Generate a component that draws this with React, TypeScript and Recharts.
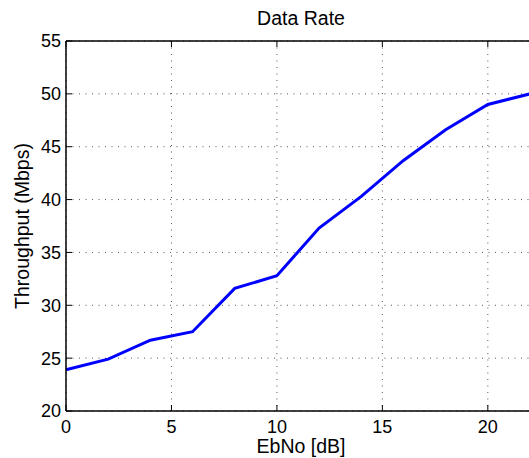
import React from "react";
import { LineChart, Line, XAxis, YAxis, CartesianGrid } from "recharts";

const ebno = [0, 2, 4, 6, 8, 10, 12, 14, 16, 18, 20, 22];
const throughput = [23.9, 24.9, 26.7, 27.5, 31.6, 32.8, 37.3, 40.3, 43.7, 46.6, 49.0, 50.0];
const xTicks = [0, 5, 10, 15, 20];
const yTicks = [20, 25, 30, 35, 40, 45, 50, 55];
const title = "Data Rate";
const xLabel = "EbNo [dB]";
const yLabel = "Throughput (Mbps)";

const data = ebno.map((x, i) => ({ x, y: throughput[i] }));

const FONT = "'Liberation Sans', Arial, Helvetica, sans-serif";
const TICK_FS = 18;
const LABEL_FS = 19.5;
const TICK_LEN = 6;
const X_MARGIN = 9;
const Y_MARGIN = 5;

const BottomTick = (props: any) => {
  const { x, y, payload } = props;
  const axisY = y - X_MARGIN;
  return (
    <g>
      <line x1={x} y1={axisY} x2={x} y2={axisY - TICK_LEN} stroke="#000" strokeWidth={1} />
      <text x={x} y={y} dy="0.71em" textAnchor="middle" fontSize={TICK_FS} fontFamily={FONT} fill="#000">
        {payload.value}
      </text>
    </g>
  );
};

const TopTick = (props: any) => {
  const { x, y } = props;
  return <line x1={x} y1={y} x2={x} y2={y + TICK_LEN} stroke="#000" strokeWidth={1} />;
};

const LeftTick = (props: any) => {
  const { x, y, payload } = props;
  const axisX = x + Y_MARGIN;
  return (
    <g>
      <line x1={axisX} y1={y} x2={axisX + TICK_LEN} y2={y} stroke="#000" strokeWidth={1} />
      <text x={x} y={y} dy="0.355em" textAnchor="end" fontSize={TICK_FS} fontFamily={FONT} fill="#000">
        {payload.value}
      </text>
    </g>
  );
};

const TitleLabel = (props: any) => {
  const vb = props.viewBox;
  return (
    <text x={vb.x + vb.width / 2 + 3} y={vb.y + vb.height - 16} textAnchor="middle" fontSize={LABEL_FS} fontFamily={FONT} fill="#000">
      {title}
    </text>
  );
};

const XLabel = (props: any) => {
  const vb = props.viewBox;
  return (
    <text x={vb.x + vb.width / 2 + 3} y={vb.y + 42} textAnchor="middle" fontSize={LABEL_FS} fontFamily={FONT} fill="#000">
      {xLabel}
    </text>
  );
};

const YLabel = (props: any) => {
  const vb = props.viewBox;
  const cx = vb.x + 29;
  const cy = vb.y + vb.height / 2;
  return (
    <text x={cx} y={cy} transform={`rotate(-90, ${cx}, ${cy})`} textAnchor="middle" fontSize={LABEL_FS} fontFamily={FONT} fill="#000">
      {yLabel}
    </text>
  );
};

export default function App() {
  return (
    <div style={{ position: "absolute", left: 0, top: 0, width: 529, height: 458, overflow: "hidden", background: "#fff" }}>
      <LineChart width={531} height={458} data={data} margin={{ top: 40, right: 1, left: 0, bottom: 17 }}>
        <CartesianGrid stroke="#555" strokeWidth={1} strokeDasharray="1 5.5" />
        <XAxis
          dataKey="x"
          type="number"
          domain={[0, 22]}
          ticks={xTicks}
          interval={0}
          height={30}
          tickSize={0}
          tickMargin={X_MARGIN}
          tick={<BottomTick />}
          axisLine={{ stroke: "#000", strokeWidth: 1.5 }}
          tickLine={false}
          label={{ content: <XLabel /> }}
        />
        <XAxis
          xAxisId="top"
          orientation="top"
          dataKey="x"
          type="number"
          domain={[0, 22]}
          ticks={xTicks}
          interval={0}
          height={1}
          tickSize={0}
          tickMargin={0}
          tick={<TopTick />}
          axisLine={{ stroke: "#000", strokeWidth: 1.5 }}
          tickLine={false}
          label={{ content: <TitleLabel /> }}
        />
        <YAxis
          type="number"
          domain={[20, 55]}
          ticks={yTicks}
          interval={0}
          width={66}
          tickSize={0}
          tickMargin={Y_MARGIN}
          tick={<LeftTick />}
          axisLine={{ stroke: "#000", strokeWidth: 1.5 }}
          tickLine={false}
          label={{ content: <YLabel /> }}
        />
        <Line
          type="linear"
          dataKey="y"
          stroke="#0000ff"
          strokeWidth={3}
          dot={false}
          isAnimationActive={false}
        />
      </LineChart>
    </div>
  );
}
